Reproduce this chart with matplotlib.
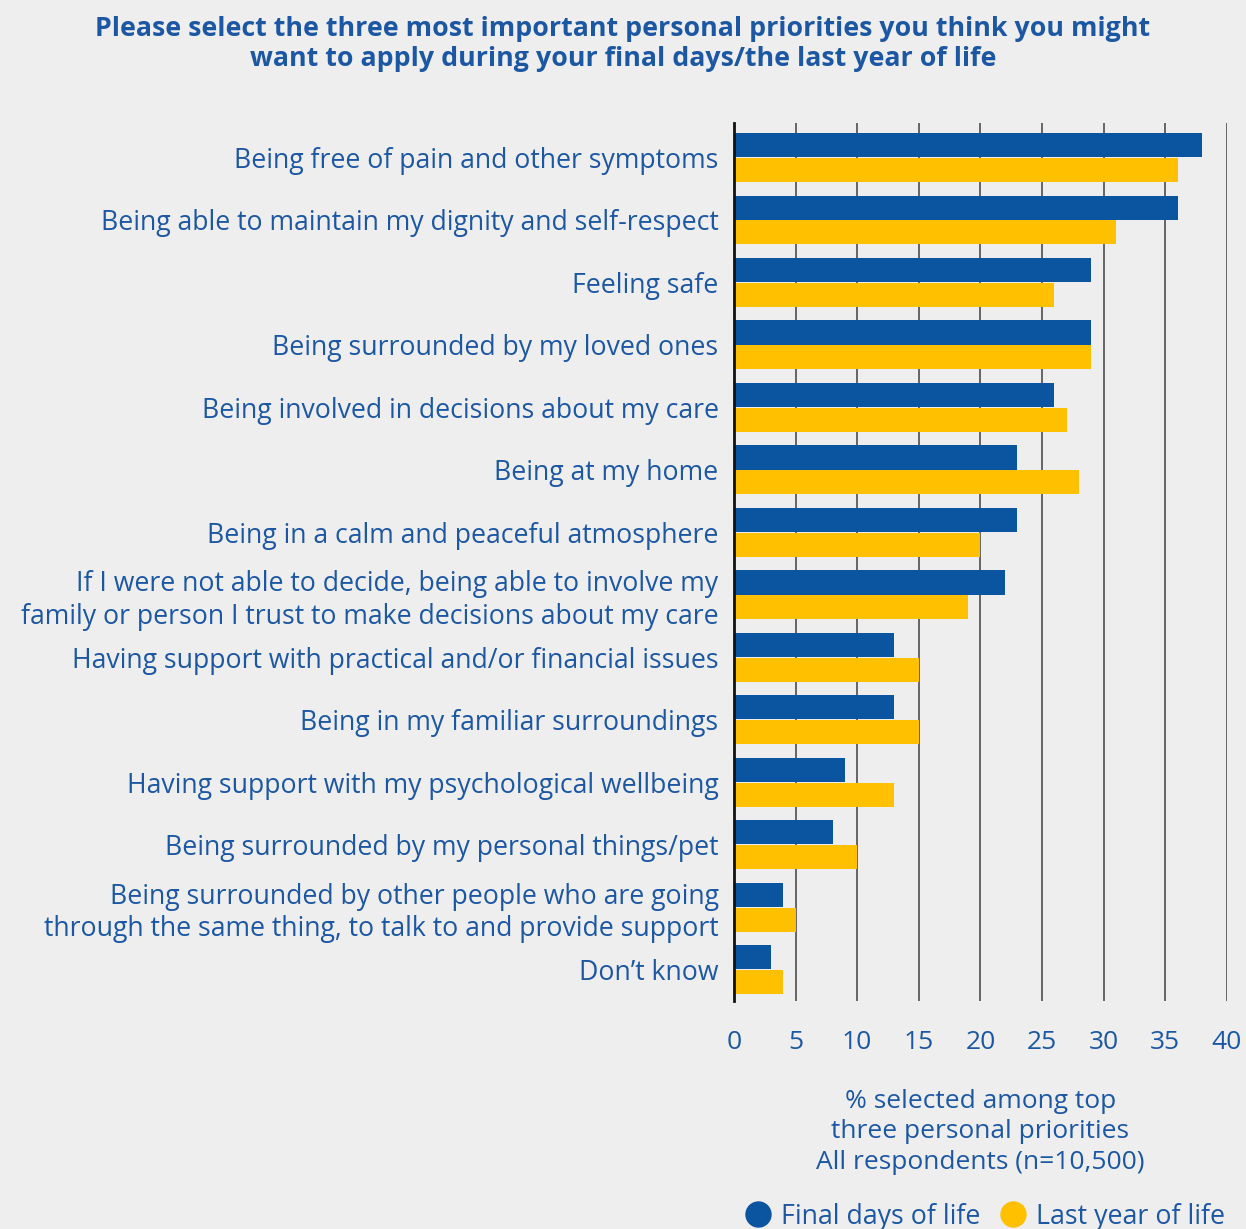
import matplotlib.pyplot as plt
import numpy as np
from matplotlib.lines import Line2D

plt.rcParams['font.family'] = ['Open Sans', 'DejaVu Sans']

# Survey responses (% selecting each item among top three priorities)
priorities = [
    "Being free of pain and other symptoms",
    "Being able to maintain my dignity and self-respect",
    "Feeling safe",
    "Being surrounded by my loved ones",
    "Being involved in decisions about my care",
    "Being at my home",
    "Being in a calm and peaceful atmosphere",
    "If I were not able to decide, being able to involve my\nfamily or person I trust to make decisions about my care",
    "Having support with practical and/or financial issues",
    "Being in my familiar surroundings",
    "Having support with my psychological wellbeing",
    "Being surrounded by my personal things/pet",
    "Being surrounded by other people who are going\nthrough the same thing, to talk to and provide support",
    "Don\u2019t know",
]
final_days = [38, 36, 29, 29, 26, 23, 23, 22, 13, 13, 9, 8, 4, 3]
last_year = [36, 31, 26, 29, 27, 28, 20, 19, 15, 15, 13, 10, 5, 4]
x_ticks = [0, 5, 10, 15, 20, 25, 30, 35, 40]

BLUE = "#0b54a0"
YELLOW = "#ffc000"
TEXT = "#1c57a3"
BG = "#eeeeee"

fig = plt.figure(figsize=(12.46, 12.29), dpi=100, facecolor=BG)
ax = fig.add_axes([0.589, 0.1855, 0.3957, 0.7144], facecolor=BG)

y = np.arange(len(priorities))
h = 0.385
ax.barh(y - h / 2 - 0.005, final_days, height=h, color=BLUE, zorder=3)
ax.barh(y + h / 2 + 0.005, last_year, height=h, color=YELLOW, zorder=3)

ax.set_xlim(0, 40)
ax.set_ylim(13.5, -0.55)
ax.set_xticks(x_ticks)
ax.set_yticks(y)
ax.set_yticklabels(priorities, fontsize=19.2, color=TEXT, linespacing=1.2)
ax.tick_params(axis='x', length=0, pad=21, labelsize=19, labelcolor=TEXT)
ax.tick_params(axis='y', length=0, pad=11)
ax.grid(axis='x', color="#5a5a5a", linewidth=1.3, zorder=0)

for side in ["top", "right", "bottom"]:
    ax.spines[side].set_visible(False)
ax.spines["left"].set_color("#111111")
ax.spines["left"].set_linewidth(2)
ax.spines["left"].set_zorder(4)

ax.set_xlabel("% selected among top\nthree personal priorities\nAll respondents (n=10,500)",
              fontsize=19, color=TEXT, labelpad=24, linespacing=1.3)

fig.text(0.5, 0.987, "Please select the three most important personal priorities you think you might\n"
         "want to apply during your final days/the last year of life",
         ha="center", va="top", fontsize=19.3, fontweight="bold", color=TEXT, linespacing=1.2)

handles = [
    Line2D([], [], marker="o", linestyle="", markersize=18, color=BLUE, label="Final days of life"),
    Line2D([], [], marker="o", linestyle="", markersize=18, color=YELLOW, label="Last year of life"),
]
fig.legend(handles=handles, loc="center", bbox_to_anchor=(0.785, 0.01), ncol=2, frameon=False,
           fontsize=19.3, labelcolor=TEXT, handletextpad=-0.15, columnspacing=0.2, borderaxespad=0)

fig.savefig("out.png", dpi=100, facecolor=BG)
